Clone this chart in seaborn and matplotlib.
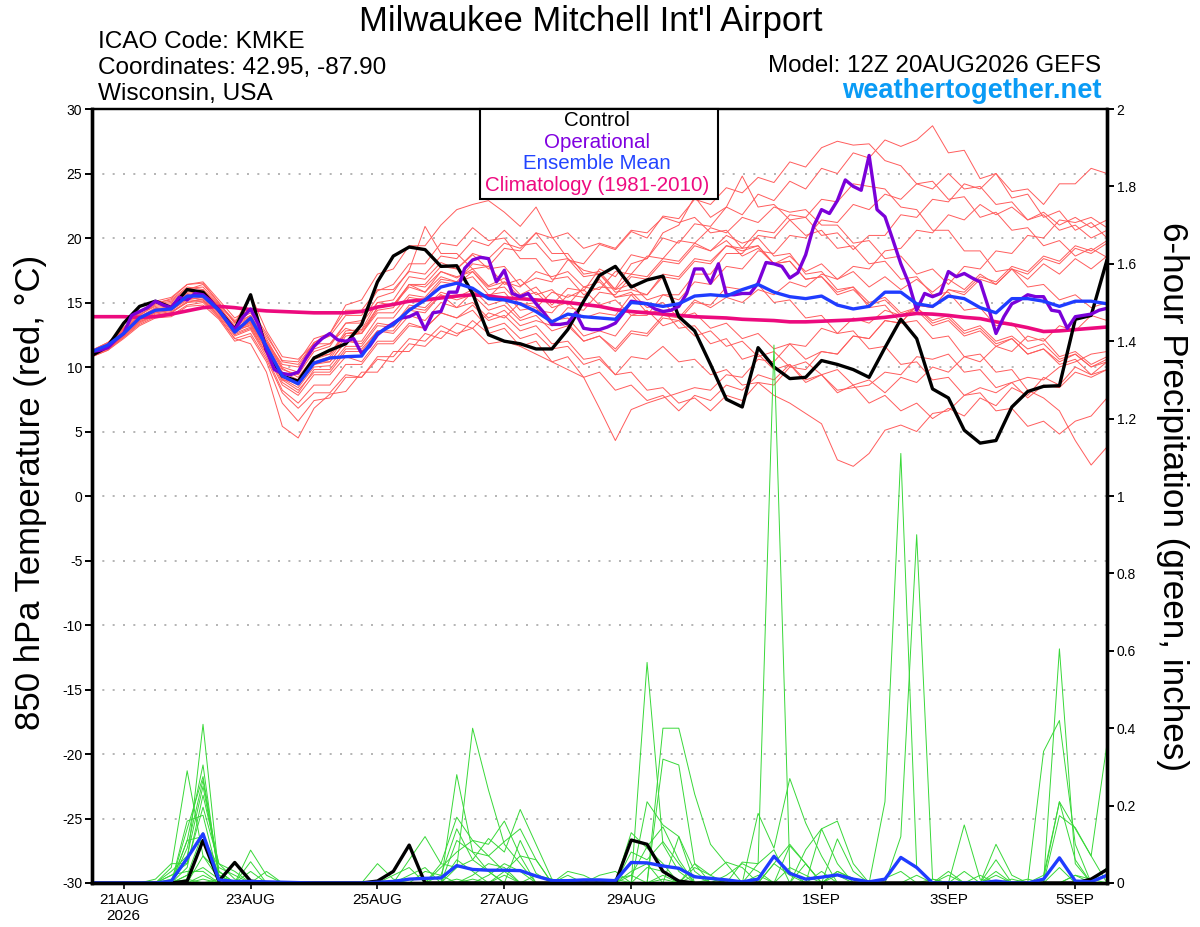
import numpy as np
import pandas as pd
import matplotlib
matplotlib.use("Agg")
import matplotlib.pyplot as plt
from matplotlib.patches import Rectangle
import seaborn as sns

sns.set_style("white")
plt.rcParams["font.family"] = ["Liberation Sans", "DejaVu Sans"]
plt.rcParams["axes.unicode_minus"] = False
plt.rcParams.update({"text.color": "black", "axes.labelcolor": "black",
                     "xtick.color": "black", "ytick.color": "black"})

RED = "#ff5c5c"
GREEN = "#38d838"
BLUE = "#1f3cff"
PURPLE = "#7b00d9"
MAGENTA = "#ec0a7e"

# GEFS run 12Z 20AUG2026, 6-hourly to 384 h (operational 3-hourly)
times_6h = pd.date_range("2026-08-20 12:00", periods=65, freq="6h")
times_3h = pd.date_range("2026-08-20 12:00", periods=129, freq="3h")

tick_days = ["2026-08-21", "2026-08-23", "2026-08-25", "2026-08-27",
             "2026-08-29", "2026-09-01", "2026-09-03", "2026-09-05"]
tick_labels = ["21AUG\n2026", "23AUG", "25AUG", "27AUG", "29AUG", "1SEP", "3SEP", "5SEP"]

temp_ticks = list(range(-30, 31, 5))
precip_ticks = [0, 0.2, 0.4, 0.6, 0.8, 1.0, 1.2, 1.4, 1.6, 1.8, 2.0]

# ---- 850 hPa temperature (C) ----
control_temp = [
    10.9, 11.6, 13.4, 14.7, 15.1, 14.6, 16.0, 15.8, 14.4, 12.9, 15.6, 11.3, 9.3,
    8.9, 10.7, 11.3, 11.8, 13.3, 16.6, 18.6, 19.3, 19.1, 17.8, 17.85, 15.7, 12.5,
    12.0, 11.8, 11.4, 11.4, 12.9, 15.1, 17.1, 17.8, 16.2, 16.75, 17.05, 13.9, 12.8,
    10.2, 7.5, 6.9, 11.5, 10.0, 9.1, 9.2, 10.5, 10.2, 9.8, 9.2, 11.5, 13.7,
    12.2, 8.3, 7.6, 5.1, 4.1, 4.3, 6.9, 8.1, 8.5, 8.55, 13.7, 14.0, 18.3]

operational_temp = [
    11.2, 11.3, 11.5, 12.1, 12.6, 14.0, 14.3, 14.6, 15.1, 14.8, 14.6, 15.4, 15.2,
    15.7, 15.6, 15.1, 14.4, 13.6, 12.9, 13.85, 14.5, 13.3, 11.3, 9.8, 9.5, 9.4,
    9.6, 10.7, 11.6, 12.2, 12.6, 12.1, 12.0, 12.2, 11.05,
    11.6, 12.5, 13.0, 13.4, 13.8, 13.9, 14.2, 12.9, 14.2, 14.3, 15.8, 15.8, 17.65,
    18.3, 18.5, 18.4, 16.6, 17.5, 15.7, 15.45, 15.7, 14.9, 14.2, 13.3, 13.3, 13.4,
    14.2, 13.0, 12.9, 12.9, 13.1, 13.4, 14.2, 15.1, 15.0, 14.9,
    14.5, 14.3, 14.4, 14.7, 15.7, 17.6, 17.6, 16.5, 18.0, 15.6, 15.6, 15.7, 15.7,
    16.5, 18.1, 18.0, 17.8, 16.9, 17.3, 18.7, 20.9, 22.2, 21.9, 22.9, 24.5, 24.0,
    23.7, 26.4, 22.2, 21.65,
    19.85, 18.0, 16.5, 14.4, 15.7, 15.45, 15.7, 17.4, 17.0, 17.25, 16.9, 16.6, 14.7,
    12.6, 13.9, 14.9, 15.2, 15.6, 15.45, 15.45, 14.4, 14.3, 13.0, 13.9, 14.0, 14.1,
    14.4, 14.55]

mean_temp = [
    11.2, 11.7, 12.6, 13.8, 14.4, 14.5, 15.5, 15.5, 14.4, 12.7, 13.8, 11.6, 9.3,
    8.7, 10.3, 10.7, 10.8, 10.85, 12.6, 13.3, 14.4, 15.2, 16.2, 16.5, 16.1, 15.3,
    15.2, 14.9, 14.3, 13.5, 14.1, 13.9, 13.8, 13.7, 15.0, 14.9, 14.7, 14.9, 15.5,
    15.6, 15.5, 16.0, 16.4, 15.8, 15.45, 15.3, 15.5, 14.8, 14.5, 14.7, 15.8, 15.8,
    14.9, 14.7, 15.5, 15.3, 14.6, 14.2, 15.3, 15.3, 15.1, 14.7, 15.1, 15.1, 14.9]

climatology_temp = [
    13.9, 13.9, 13.9, 13.85, 13.9, 14.1, 14.35, 14.6, 14.7, 14.6, 14.45, 14.35, 14.3,
    14.25, 14.2, 14.2, 14.2, 14.3, 14.65, 14.85, 15.1, 15.2, 15.35, 15.5, 15.6, 15.5,
    15.35, 15.3, 15.2, 15.1, 15.0, 14.85, 14.7, 14.45, 14.3, 14.2, 14.1, 14.0, 13.9,
    13.85, 13.8, 13.7, 13.65, 13.6, 13.5, 13.5, 13.55, 13.6, 13.65, 13.75, 13.85, 14.0,
    14.15, 14.1, 14.0, 13.85, 13.75, 13.5, 13.3, 13.05, 12.75, 12.8, 12.9, 13.0, 13.1]

member_temp = [
    [11.1, 11.8, 13.1, 14.2, 15.0, 15.2, 16.2, 16.0, 14.8, 13.5, 14.2, 12.2, 10.0,
     9.6, 11.4, 11.8, 13.0, 12.6, 14.6, 14.8, 16.4, 15.8, 17.4, 16.9, 17.6, 16.3,
     16.9, 15.6, 16.2, 14.8, 16.1, 15.9, 17.6, 17.0, 18.7, 18.4, 20.0, 19.6, 21.1,
     20.9, 22.4, 21.8, 23.4, 22.9, 24.4, 23.8, 25.4, 25.0, 26.6, 26.2, 27.6, 27.1,
     27.6, 28.7, 26.6, 26.8, 24.6, 25.0, 23.1, 23.4, 21.6, 22.1, 20.6, 21.2, 20.0],
    [10.9, 11.5, 12.6, 13.7, 14.3, 14.6, 15.4, 15.7, 14.6, 12.9, 13.2, 11.3, 9.0,
     8.8, 10.6, 11.0, 12.8, 12.9, 15.0, 15.2, 17.0, 16.8, 18.1, 17.6, 18.7, 17.6,
     17.8, 16.3, 16.9, 16.6, 18.3, 18.0, 19.5, 19.1, 20.5, 20.0, 21.7, 21.5, 23.0,
     22.6, 23.9, 23.5, 24.7, 24.3, 25.9, 25.5, 27.0, 27.5, 27.2, 27.3, 26.0, 25.6,
     24.2, 24.4, 23.0, 23.2, 21.6, 22.0, 20.6, 20.8, 19.4, 19.8, 18.6, 19.2, 18.5],
    [11.3, 11.9, 12.9, 14.0, 14.9, 15.3, 16.4, 16.6, 15.2, 13.8, 14.5, 12.6, 10.4,
     10.2, 11.9, 12.4, 14.0, 14.0, 15.9, 16.4, 18.0, 18.0, 19.6, 19.4, 20.8, 19.8,
     20.0, 18.4, 18.4, 16.8, 17.0, 15.6, 16.2, 16.1, 18.0, 18.4, 20.4, 21.0, 23.2,
     21.6, 22.4, 24.8, 22.4, 22.6, 21.4, 21.6, 20.2, 20.4, 19.1, 20.2, 20.2, 21.8,
     21.6, 23.0, 22.8, 24.2, 23.8, 25.0, 23.6, 23.8, 22.6, 24.2, 24.2, 25.4, 25.0],
    [10.8, 11.4, 12.4, 13.5, 14.1, 14.3, 15.0, 15.3, 14.2, 12.5, 13.0, 11.0, 8.6,
     7.8, 9.4, 9.4, 10.8, 10.4, 12.0, 12.0, 13.4, 13.0, 14.2, 13.8, 14.4, 13.0,
     13.4, 12.2, 12.6, 11.4, 11.6, 10.2, 10.6, 9.4, 10.8, 10.6, 11.6, 10.4, 10.6,
     9.4, 9.8, 8.6, 8.8, 7.8, 7.2, 6.4, 5.6, 2.8, 2.3, 3.3, 5.1, 5.5,
     5.0, 6.4, 6.6, 7.8, 8.4, 8.0, 8.8, 9.2, 9.0, 10.0, 10.4, 11.0, 11.2],
    [11.0, 11.5, 12.5, 13.6, 14.2, 14.4, 15.2, 15.4, 14.3, 12.7, 13.3, 11.4, 9.1,
     8.4, 10.0, 10.1, 11.6, 11.6, 13.2, 13.1, 14.6, 14.4, 15.6, 14.6, 15.0, 13.8,
     14.4, 13.2, 13.6, 13.2, 14.6, 14.4, 15.8, 15.6, 17.0, 16.8, 18.2, 18.0, 19.4,
     19.0, 20.2, 19.6, 20.0, 18.6, 18.8, 17.2, 17.4, 16.0, 16.2, 14.6, 14.8, 13.4,
     13.6, 12.2, 12.4, 10.8, 11.0, 9.6, 9.8, 8.2, 7.6, 6.6, 4.3, 2.4, 3.8],
    [10.9, 11.4, 12.3, 13.3, 13.9, 14.0, 14.8, 15.0, 13.8, 12.2, 12.6, 10.6, 8.0,
     6.8, 8.0, 8.0, 9.4, 9.2, 10.8, 10.8, 12.2, 12.0, 13.2, 12.6, 13.0, 11.8,
     12.0, 11.6, 11.0, 10.4, 9.8, 9.2, 6.8, 4.3, 6.7, 7.2, 7.6, 8.0, 8.4,
     8.2, 9.4, 9.2, 10.6, 10.4, 11.8, 11.6, 13.0, 12.6, 13.8, 13.4, 14.4, 14.0,
     14.6, 13.6, 14.0, 12.8, 13.2, 12.0, 12.4, 11.4, 11.8, 10.6, 11.0, 10.0, 10.4],
    [11.2, 11.7, 12.7, 13.8, 14.4, 14.6, 15.4, 15.2, 13.9, 12.2, 11.8, 9.6, 5.4,
     4.5, 6.8, 7.9, 8.1, 9.6, 9.6, 11.2, 11.2, 12.6, 12.2, 13.4, 13.0, 14.2,
     13.8, 15.0, 14.6, 15.8, 15.4, 16.0, 14.8, 15.2, 14.0, 14.4, 13.2, 13.6, 12.4,
     12.8, 11.6, 12.0, 10.8, 11.2, 10.0, 10.4, 9.4, 9.8, 8.6, 9.0, 8.0, 9.2,
     8.8, 10.0, 9.6, 10.8, 10.4, 11.6, 11.2, 12.4, 12.0, 13.2, 12.8, 14.0, 13.6],
    [11.0, 11.6, 12.8, 14.0, 14.8, 15.0, 16.0, 16.4, 15.0, 13.4, 14.0, 12.0, 10.2,
     10.0, 11.9, 12.6, 14.8, 15.2, 17.2, 17.6, 19.4, 19.4, 21.0, 22.2, 22.6, 22.9,
     22.0, 20.9, 22.4, 20.1, 18.4, 17.5, 17.2, 15.8, 16.0, 15.6, 17.2, 17.0, 18.4,
     18.2, 19.4, 19.0, 19.4, 18.0, 18.2, 16.8, 17.0, 15.6, 16.0, 14.8, 15.2, 14.0,
     14.4, 13.2, 13.6, 12.4, 12.8, 11.6, 12.2, 11.0, 11.4, 10.2, 10.6, 9.4, 9.8],
    [11.1, 11.7, 12.9, 14.1, 14.7, 14.9, 15.8, 16.0, 14.7, 13.1, 13.9, 11.9, 9.8,
     9.4, 11.2, 11.6, 13.4, 13.6, 15.4, 15.8, 17.5, 20.9, 18.8, 18.8, 17.6, 17.8,
     16.4, 16.8, 15.6, 16.0, 14.8, 16.2, 16.0, 17.4, 17.2, 18.6, 18.4, 19.8, 19.6,
     20.8, 20.4, 21.6, 21.2, 22.4, 22.0, 22.2, 21.0, 21.0, 19.6, 19.8, 18.4, 18.6,
     17.2, 17.6, 16.4, 17.8, 17.6, 19.0, 18.8, 20.2, 20.0, 21.4, 21.2, 21.6, 20.8],
    [10.9, 11.5, 12.6, 13.8, 14.5, 14.7, 15.6, 15.8, 14.6, 13.0, 13.7, 11.8, 9.6,
     9.0, 10.4, 10.4, 12.0, 12.0, 13.8, 13.8, 15.4, 15.2, 16.6, 16.4, 17.4, 16.2,
     16.6, 15.4, 15.8, 14.6, 15.0, 13.8, 14.2, 14.0, 15.6, 15.6, 17.0, 16.8, 18.2,
     18.0, 19.4, 19.2, 20.6, 20.4, 21.8, 21.6, 23.0, 22.8, 24.2, 24.0, 23.8, 22.4,
     22.2, 20.6, 20.6, 19.0, 19.0, 17.4, 17.6, 16.2, 16.4, 15.2, 15.6, 14.6, 15.0],
    [11.0, 11.4, 12.4, 13.5, 14.0, 14.2, 15.0, 15.1, 14.0, 12.4, 12.9, 10.8, 8.2,
     7.2, 8.6, 8.6, 10.2, 10.2, 11.8, 11.8, 13.2, 13.0, 14.2, 13.8, 14.8, 13.6,
     14.0, 12.8, 13.2, 11.8, 12.0, 10.6, 10.8, 9.4, 9.6, 8.2, 8.4, 7.2, 7.6,
     6.6, 7.8, 7.4, 8.8, 8.6, 10.0, 9.8, 11.2, 11.0, 12.4, 12.2, 13.6, 13.4,
     14.8, 14.6, 16.0, 15.8, 17.0, 16.6, 17.8, 17.4, 18.6, 18.2, 19.4, 19.0, 19.8],
    [11.2, 11.8, 13.0, 14.3, 15.1, 15.4, 16.4, 16.5, 15.0, 13.4, 15.6, 12.8, 10.8,
     10.6, 11.8, 11.8, 13.4, 13.4, 15.0, 14.8, 16.2, 15.8, 17.0, 16.6, 17.0, 15.6,
     15.8, 14.4, 14.6, 13.2, 13.4, 12.0, 12.4, 11.4, 12.8, 12.6, 14.0, 13.8, 15.2,
     14.6, 15.4, 15.0, 16.0, 15.6, 16.6, 16.2, 17.2, 16.8, 17.8, 17.6, 19.0, 19.2,
     20.6, 20.4, 21.8, 21.4, 22.6, 21.8, 22.4, 21.4, 22.0, 21.0, 21.6, 20.8, 21.4],
    [11.0, 11.6, 12.7, 13.9, 14.5, 14.6, 15.5, 15.5, 14.4, 12.8, 13.5, 11.5, 9.2,
     8.6, 10.2, 10.6, 12.4, 12.6, 14.4, 14.6, 16.4, 16.4, 17.8, 17.6, 18.8, 18.4,
     19.6, 19.2, 20.4, 20.0, 20.4, 19.2, 19.6, 19.2, 20.6, 20.4, 21.6, 21.2, 21.6,
     20.4, 20.6, 19.2, 19.4, 18.0, 18.2, 16.8, 17.0, 15.8, 16.2, 15.0, 15.4, 14.2,
     14.6, 13.4, 13.8, 12.6, 13.0, 11.8, 12.2, 11.0, 11.4, 10.4, 11.0, 10.0, 10.6],
    [10.8, 11.3, 12.3, 13.4, 14.0, 14.2, 15.1, 15.2, 14.1, 12.6, 13.1, 11.1, 8.8,
     8.0, 9.8, 9.8, 11.4, 11.4, 12.8, 12.6, 14.0, 13.6, 15.0, 14.6, 15.8, 15.4,
     16.6, 16.2, 17.4, 17.0, 17.4, 16.2, 16.6, 15.4, 15.8, 14.6, 15.0, 13.8, 14.2,
     13.0, 13.4, 12.2, 12.6, 11.4, 11.8, 10.6, 11.2, 11.0, 12.4, 12.2, 13.6, 13.4,
     14.8, 14.6, 16.0, 15.6, 16.8, 16.4, 17.6, 17.2, 18.4, 18.0, 19.2, 18.8, 19.6],
    [11.1, 11.7, 12.8, 13.9, 14.6, 14.8, 15.7, 15.9, 14.7, 13.2, 14.0, 12.0, 9.9,
     9.2, 10.8, 11.0, 12.6, 12.6, 14.2, 14.2, 15.6, 15.4, 16.8, 16.6, 18.0, 17.8,
     19.2, 19.0, 20.4, 18.8, 18.8, 17.2, 17.4, 16.0, 16.4, 15.2, 15.6, 15.2, 16.6,
     16.4, 17.8, 17.6, 19.0, 18.8, 20.2, 20.0, 21.4, 21.2, 22.6, 22.2, 23.4, 23.0,
     24.2, 23.8, 25.0, 23.8, 24.0, 22.6, 22.8, 21.4, 21.8, 20.6, 21.0, 20.0, 20.6],
    [10.9, 11.5, 12.5, 13.6, 14.2, 14.4, 15.3, 15.4, 14.3, 12.8, 13.4, 11.3, 9.0,
     8.2, 9.6, 9.6, 11.2, 11.2, 12.8, 12.8, 14.4, 14.2, 15.6, 15.2, 15.6, 14.4,
     14.8, 13.6, 14.0, 12.8, 13.2, 12.0, 12.4, 11.2, 12.6, 12.4, 13.8, 13.6, 15.0,
     14.8, 16.2, 16.0, 16.4, 15.0, 15.2, 13.8, 14.0, 12.6, 12.8, 11.4, 11.6, 10.2,
     10.4, 9.0, 9.2, 7.8, 8.0, 6.6, 6.8, 5.4, 5.8, 4.8, 5.8, 6.2, 7.6],
    [11.0, 11.6, 12.6, 13.7, 14.3, 14.5, 15.4, 15.6, 14.5, 12.9, 13.5, 11.5, 9.3,
     8.8, 10.4, 10.8, 12.6, 12.8, 14.6, 14.8, 16.4, 16.2, 17.4, 17.0, 17.4, 16.0,
     16.2, 14.8, 15.0, 13.6, 13.8, 12.4, 12.8, 12.4, 14.0, 14.0, 15.6, 15.6, 17.2,
     17.2, 18.8, 18.8, 20.2, 20.0, 21.4, 20.2, 20.6, 19.2, 19.4, 18.0, 18.2, 16.8,
     17.0, 15.6, 15.8, 14.4, 14.6, 13.2, 13.4, 12.0, 12.2, 10.8, 11.2, 10.2, 10.8],
    [11.3, 11.9, 13.0, 14.2, 14.9, 15.1, 16.1, 16.2, 14.9, 13.6, 14.4, 12.4, 10.5,
     10.4, 12.2, 12.6, 14.4, 14.4, 16.0, 16.0, 17.4, 17.2, 18.6, 18.4, 19.8, 19.4,
     20.6, 19.4, 19.6, 18.2, 18.4, 17.0, 17.2, 16.0, 17.2, 17.0, 18.4, 18.2, 19.6,
     19.0, 19.8, 18.6, 19.2, 18.0, 18.6, 17.4, 18.0, 16.8, 17.4, 16.2, 17.0, 16.0,
     16.8, 15.8, 16.8, 16.0, 17.2, 16.4, 17.6, 16.8, 18.0, 17.2, 18.4, 17.6, 18.6],
    [10.8, 11.3, 12.2, 13.2, 13.8, 13.9, 14.7, 14.8, 13.7, 12.0, 12.4, 10.4, 7.2,
     5.8, 7.4, 7.6, 9.2, 9.2, 10.6, 10.4, 11.8, 11.6, 12.8, 12.4, 13.6, 12.6,
     13.0, 11.6, 12.0, 10.4, 10.8, 9.2, 9.6, 8.2, 8.6, 7.4, 7.8, 6.6, 7.8,
     7.4, 8.6, 8.2, 9.4, 9.0, 10.2, 8.8, 9.4, 8.0, 8.6, 7.2, 7.8, 6.6,
     7.2, 6.0, 6.8, 6.2, 7.6, 7.0, 8.4, 7.8, 9.2, 8.6, 10.0, 9.4, 10.4],
    [11.1, 11.7, 12.7, 13.8, 14.4, 14.6, 15.5, 15.6, 14.4, 12.9, 13.6, 11.6, 9.4,
     8.6, 10.2, 10.4, 12.0, 11.8, 13.4, 13.2, 14.8, 14.6, 15.8, 15.4, 16.0, 14.8,
     15.2, 13.8, 14.4, 14.2, 15.6, 15.4, 16.8, 15.4, 15.6, 14.2, 14.4, 13.0, 13.2,
     11.8, 12.2, 10.6, 11.0, 9.8, 10.2, 9.0, 9.4, 8.2, 8.4, 8.6, 9.6, 9.4,
     10.8, 10.6, 11.0, 9.6, 9.8, 8.4, 8.8, 7.6, 8.6, 8.4, 9.6, 9.2, 9.8],
]

# ---- 6-hour precipitation (inches) ----
control_precip = [
    0, 0, 0, 0, 0, 0, .005, .11, .005, .053, .005, 0, 0,
    0, 0, 0, 0, 0, .005, .03, .098, 0, 0, 0, 0, 0,
    0, 0, 0, 0, 0, 0, 0, 0, .111, .10, .03, .005, 0,
    0, 0, 0, 0, 0, 0, 0, 0, 0, 0, 0, 0, 0,
    0, 0, 0, 0, 0, 0, 0, 0, 0, 0, 0, .01, .035]

mean_precip = [
    0, 0, 0, 0, 0, .005, .064, .127, .008, .004, .004, .003, .002,
    .001, 0, 0, 0, 0, .002, .004, .01, .012, .013, .045, .035, .033,
    .033, .032, .018, .006, .006, .008, .008, .006, .053, .052, .044, .038, .016,
    .012, .008, .003, .01, .069, .025, .01, .015, .021, .01, .003, .01, .066,
    .04, 0, 0, 0, 0, .005, 0, 0, .01, .065, .005, .003, .02]

member_precip = [
    [0, 0, 0, 0, 0, .02, .05, .41, .02, 0, 0, 0, 0,
     0, 0, 0, 0, 0, 0, 0, 0, 0, 0, .04, .40, .24,
     .10, .05, 0, 0, 0, 0, 0, 0, 0, .57, .10, .03, 0,
     0, 0, 0, 0, .05, .10, .05, 0, 0, 0, 0, 0, 0,
     0, 0, 0, 0, 0, .10, .02, 0, 0, 0, 0, 0, 0],
    [0, 0, 0, 0, 0, .04, .29, .07, .01, 0, 0, 0, 0,
     0, 0, 0, 0, 0, .05, .01, 0, 0, 0, .28, .08, .03,
     0, 0, 0, 0, 0, 0, 0, 0, 0, 0, .40, .40, .23,
     .10, .05, 0, .05, 1.39, .03, 0, 0, 0, 0, 0, 0, 0,
     0, 0, 0, 0, 0, 0, 0, 0, .02, .21, .14, .07, 0],
    [0, 0, 0, 0, 0, 0, .11, .305, .01, 0, 0, 0, 0,
     0, 0, 0, 0, 0, 0, 0, .06, .12, .05, .17, .11, .10,
     .16, .07, 0, 0, 0, 0, 0, 0, 0, .21, .15, .12, 0,
     0, 0, 0, 0, 0, 0, 0, 0, 0, 0, 0, .21, 1.11,
     .04, 0, 0, 0, 0, 0, 0, 0, .34, .42, .10, 0, 0],
    [0, 0, 0, 0, 0, 0, .14, .275, .03, 0, 0, 0, 0,
     0, 0, 0, 0, 0, 0, 0, 0, 0, .02, .14, .06, .115,
     .08, .19, .10, .01, 0, 0, 0, 0, 0, 0, .32, .305, .05,
     0, 0, 0, .18, .09, .27, .155, .07, 0, 0, 0, 0, .12,
     .90, .01, 0, 0, 0, 0, 0, 0, 0, .605, .05, 0, .04],
    [0, 0, 0, 0, 0, 0, .09, .266, .02, 0, 0, 0, 0,
     0, 0, 0, 0, 0, 0, 0, 0, 0, 0, .11, .08, .07,
     .107, .14, .06, 0, 0, 0, 0, 0, .13, .09, .05, 0, 0,
     0, 0, 0, 0, 0, 0, .086, .14, .16, .05, 0, 0, 0,
     0, 0, 0, 0, 0, 0, 0, 0, 0, .174, .143, .07, .36],
    [0, 0, 0, 0, 0, 0, .16, .175, .01, 0, .085, .02, 0,
     0, 0, 0, 0, 0, 0, 0, 0, 0, 0, 0, 0, 0,
     0, .11, .025, 0, 0, 0, 0, 0, .08, .06, .107, .05, 0,
     0, 0, .054, .05, .086, 0, 0, 0, .114, .03, 0, 0, 0,
     0, 0, 0, .15, .01, 0, 0, 0, 0, 0, 0, 0, 0],
    [0, 0, 0, 0, 0, .03, .07, .25, .03, 0, .055, 0, 0,
     0, 0, 0, 0, 0, 0, 0, 0, 0, .04, .08, .11, .07,
     .03, 0, 0, 0, .03, .02, 0, 0, 0, 0, 0, 0, .04,
     .02, .054, .04, 0, 0, .096, .05, 0, 0, 0, 0, 0, 0,
     0, 0, .03, 0, 0, .06, 0, 0, 0, 0, 0, 0, 0],
    [0, 0, 0, 0, 0, 0, .04, .227, .05, .03, 0, 0, 0,
     0, 0, 0, 0, 0, 0, 0, 0, 0, .05, .04, .06, .03,
     0, 0, 0, 0, 0, 0, 0, 0, .02, .094, .145, .06, 0,
     0, 0, 0, 0, 0, 0, 0, .14, .05, 0, 0, 0, 0,
     0, 0, 0, 0, 0, 0, 0, 0, .01, .21, .06, 0, 0],
    [0, 0, 0, 0, .01, .05, .05, .196, .05, .01, 0, 0, 0,
     0, 0, 0, 0, 0, 0, 0, 0, 0, 0, 0, 0, 0,
     .03, .07, .06, 0, 0, 0, .02, .03, 0, 0, 0, 0, .05,
     .02, 0, 0, 0, 0, 0, .05, 0, .03, .012, 0, 0, 0,
     0, 0, 0, 0, 0, .03, 0, 0, 0, 0, 0, 0, 0],
    [0, 0, 0, 0, 0, 0, .02, .13, .02, 0, 0, 0, 0,
     0, 0, 0, 0, 0, 0, 0, .02, .04, 0, 0, .02, .05,
     .04, 0, 0, 0, 0, 0, 0, 0, 0, 0, 0, .12, .03,
     0, .02, .05, .03, 0, 0, 0, 0, 0, 0, 0, .012, .03,
     0, 0, .02, 0, 0, 0, 0, 0, 0, 0, 0, 0, 0],
    [0, 0, 0, 0, 0, 0, .11, .12, .04, .02, 0, 0, 0,
     0, 0, 0, 0, 0, 0, .02, .04, 0, 0, .06, .03, 0,
     0, 0, 0, 0, 0, 0, 0, 0, 0, .04, .03, 0, 0,
     0, 0, 0, 0, 0, .04, .02, 0, 0, 0, 0, 0, 0,
     0, 0, 0, .03, 0, 0, 0, 0, 0, 0, .02, .01, 0],
    [0, 0, 0, 0, 0, 0, 0, .07, .03, 0, .03, 0, 0,
     0, 0, 0, 0, 0, 0, 0, 0, 0, 0, 0, 0, .02,
     .05, .03, 0, 0, 0, 0, 0, 0, .03, .05, 0, 0, 0,
     0, 0, 0, 0, 0, 0, 0, 0, .03, .01, 0, 0, 0,
     0, 0, 0, 0, 0, 0, .01, 0, 0, 0, 0, 0, 0],
    [0, 0, 0, 0, 0, 0, .02, .04, .01, 0, 0, 0, 0,
     0, 0, 0, 0, 0, 0, 0, 0, .03, .02, 0, 0, 0,
     0, 0, 0, 0, 0, 0, 0, .01, .02, 0, 0, 0, 0,
     0, 0, 0, 0, .05, .02, 0, 0, 0, 0, 0, 0, 0,
     0, 0, 0, 0, .02, 0, 0, 0, 0, 0, 0, 0, 0],
    [0, 0, 0, 0, 0, .02, .03, .03, 0, 0, 0, 0, 0,
     0, 0, 0, 0, 0, 0, 0, 0, 0, 0, 0, 0, 0,
     0, 0, .02, .01, 0, 0, 0, 0, 0, 0, 0, 0, .02,
     0, 0, 0, 0, 0, 0, 0, 0, 0, 0, 0, 0, 0,
     .02, 0, 0, 0, 0, 0, 0, 0, 0, .04, 0, 0, 0],
    [0, 0, 0, 0, 0, 0, 0, .02, 0, 0, 0, .03, 0,
     0, 0, 0, 0, 0, 0, 0, 0, 0, 0, 0, .01, 0,
     0, 0, 0, 0, 0, 0, 0, 0, 0, 0, .02, 0, 0,
     0, 0, 0, 0, 0, 0, 0, .03, 0, 0, 0, 0, 0,
     0, 0, 0, 0, 0, .02, 0, 0, 0, 0, 0, 0, 0],
    [0, 0, 0, 0, 0, 0, 0, .01, 0, 0, 0, 0, 0,
     0, 0, 0, 0, 0, 0, 0, 0, 0, 0, 0, 0, 0,
     0, 0, 0, 0, .02, 0, 0, 0, 0, 0, 0, 0, 0,
     0, 0, 0, .02, 0, 0, 0, 0, 0, 0, 0, 0, 0,
     0, 0, 0, 0, 0, 0, 0, .01, 0, 0, 0, 0, 0],
    [0, 0, 0, 0, 0, 0, .01, 0, 0, 0, 0, 0, 0,
     0, 0, 0, 0, 0, 0, 0, 0, 0, 0, 0, 0, 0,
     .02, 0, 0, 0, 0, 0, 0, 0, 0, 0, 0, 0, 0,
     .01, 0, 0, 0, 0, 0, 0, 0, 0, 0, 0, 0, 0,
     0, 0, 0, 0, 0, 0, 0, 0, 0, 0, 0, 0, 0],
    [0, 0, 0, 0, 0, 0, 0, 0, .01, 0, 0, 0, 0,
     0, 0, 0, 0, 0, 0, 0, 0, 0, 0, 0, 0, 0,
     0, 0, 0, 0, 0, 0, 0, .01, 0, 0, 0, 0, 0,
     0, 0, 0, 0, 0, 0, 0, 0, 0, 0, 0, 0, 0,
     0, .01, 0, 0, 0, 0, 0, 0, 0, 0, 0, 0, 0],
    [0, 0, 0, 0, 0, 0, 0, 0, 0, 0, 0, 0, 0,
     0, 0, 0, 0, 0, 0, 0, 0, 0, 0, .01, 0, 0,
     0, 0, 0, 0, 0, 0, 0, 0, 0, 0, 0, 0, 0,
     0, 0, 0, 0, 0, 0, 0, 0, .02, 0, 0, 0, 0,
     0, 0, 0, 0, 0, 0, 0, 0, 0, 0, 0, 0, 0],
    [0, 0, 0, 0, 0, .01, 0, 0, 0, 0, 0, 0, 0,
     0, 0, 0, 0, 0, 0, 0, 0, 0, 0, 0, 0, 0,
     0, 0, 0, 0, 0, 0, 0, 0, 0, 0, .01, 0, 0,
     0, 0, 0, 0, 0, 0, 0, 0, 0, 0, 0, 0, 0,
     0, 0, 0, 0, 0, 0, 0, 0, 0, 0, .02, 0, 0],
]


def long_frame(members, times):
    parts = []
    for k, vals in enumerate(members):
        if len(vals) != len(times):
            raise ValueError(f"member {k + 1}: {len(vals)} values")
        parts.append(pd.DataFrame({"time": times, "value": vals, "member": k}))
    return pd.concat(parts, ignore_index=True)


temp_df = long_frame(member_temp, times_6h)
precip_df = long_frame(member_precip, times_6h)

W, H = 1200, 927
fig = plt.figure(figsize=(W / 100, H / 100), dpi=100)
ax = fig.add_axes([92 / W, 1 - 883 / H, (1107 - 92) / W, (883 - 109) / H])
ax2 = ax.twinx()

# temperature (left axis)
sns.lineplot(data=temp_df, x="time", y="value", units="member", estimator=None,
             color=RED, lw=0.7, ax=ax, legend=False)
sns.lineplot(x=times_6h, y=climatology_temp, color=MAGENTA, lw=2.6, ax=ax)
sns.lineplot(x=times_6h, y=control_temp, color="black", lw=2.4, ax=ax)
sns.lineplot(x=times_3h, y=operational_temp, color=PURPLE, lw=2.4, ax=ax)
sns.lineplot(x=times_6h, y=mean_temp, color=BLUE, lw=2.4, ax=ax)

# precipitation (right axis)
sns.lineplot(data=precip_df, x="time", y="value", units="member", estimator=None,
             color=GREEN, lw=0.7, ax=ax2, legend=False)
sns.lineplot(x=times_6h, y=control_precip, color="black", lw=2.4, ax=ax2)
sns.lineplot(x=times_6h, y=mean_precip, color=BLUE, lw=2.4, ax=ax2)

ax.set_xlim(times_6h[0], times_6h[-1])
ax.set_ylim(-30, 30)
ax2.set_ylim(0, 2)
ax.set_yticks(temp_ticks)
ax.set_yticklabels([str(t) for t in temp_ticks])
ax2.set_yticks(precip_ticks)
ax2.set_yticklabels([f"{p:g}" for p in precip_ticks])
ax.set_xticks(pd.to_datetime(tick_days))
ax.set_xticklabels(tick_labels)
for a in (ax, ax2):
    a.set_xlabel("")
    a.set_ylabel("")

ax.grid(axis="y", color="#a8a8a8", linestyle=(0, (1.2, 5)), lw=1.2)
ax.grid(axis="x", visible=False)
ax2.grid(False)
ax.set_axisbelow(True)

ax.tick_params(axis="y", direction="out", length=5, width=1.4, labelsize=10, pad=2, left=True)
ax.tick_params(axis="x", direction="out", length=4, width=1.2, labelsize=11, pad=3, bottom=True)
ax2.tick_params(axis="y", direction="out", length=5, width=1.4, labelsize=10, pad=2, right=True)
for a in (ax, ax2):
    for side in ("left", "right", "bottom"):
        a.spines[side].set_linewidth(2.4)
        a.spines[side].set_color("black")
    a.spines["top"].set_linewidth(1.6)
    a.spines["top"].set_color("black")

# legend box
ax2.add_patch(Rectangle((0.3823, 0.8837), 0.2345, 0.1163, transform=ax2.transAxes,
                        facecolor="white", edgecolor="black", lw=1.5, zorder=10, clip_on=False))
legend_items = [("Control", "black"), ("Operational", "#8000e0"),
                ("Ensemble Mean", "#2244ff"), ("Climatology (1981-2010)", "#ee0a80")]
for k, (label, col) in enumerate(legend_items):
    ax2.text(0.4975, 0.9845 - k * 0.0277, label, color=col, fontsize=14.8,
             ha="center", va="center", transform=ax2.transAxes, zorder=11)

# header text
fig.text(591 / W, 1 - 31 / H, "Milwaukee Mitchell Int'l Airport", fontsize=24.9,
         ha="center", va="baseline")
fig.text(98 / W, 1 - 48 / H, "ICAO Code: KMKE", fontsize=17.6, va="baseline")
fig.text(98 / W, 1 - 74 / H, "Coordinates: 42.95, -87.90", fontsize=17.6, va="baseline")
fig.text(98 / W, 1 - 100 / H, "Wisconsin, USA", fontsize=17.6, va="baseline")
fig.text(1101 / W, 1 - 72 / H, "Model: 12Z 20AUG2026 GEFS", fontsize=17.4,
         ha="right", va="baseline")
fig.text(1102 / W, 1 - 98 / H, "weathertogether.net", fontsize=19.6, fontweight="bold",
         color="#0a9bf5", ha="right", va="baseline")

fig.text(31 / W, 1 - 492 / H, "850 hPa Temperature (red, \u00b0C)", fontsize=25,
         rotation=90, ha="center", va="center")
fig.text(1172 / W, 1 - 496 / H, "6-hour Precipitation (green, inches)", fontsize=25.3,
         rotation=270, ha="center", va="center")

fig.savefig("out.png", dpi=100, facecolor="white")
